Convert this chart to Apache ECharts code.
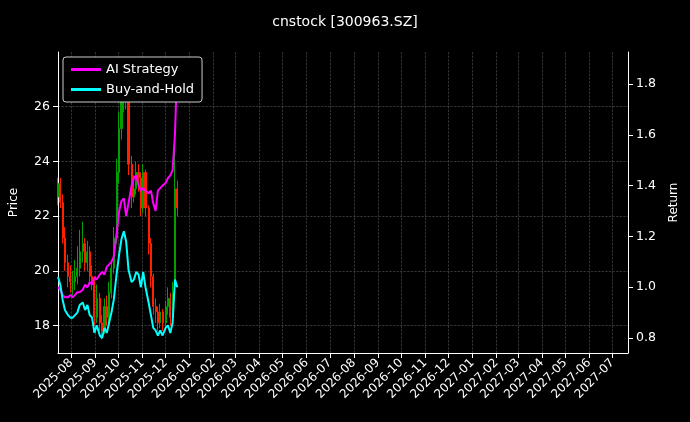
<!DOCTYPE html>
<html>
<head>
<meta charset="utf-8">
<script src="https://cdn.jsdelivr.net/npm/echarts@6/dist/echarts.min.js"></script>
<style>html,body{margin:0;padding:0;background:#000}#main{width:690px;height:422px}</style>
</head>
<body>
<div id="main"></div>
<script>
// dates: one sample every ~3 days from 2025-07-15
var startDay = Date.UTC(2025, 6, 15);
var opens  = [22.7,23.2,22.5,21.2,20.3,19.8,19.6,19.6,19.8,20.1,20.7,21.0,20.3,20.7,19.8,19.6,18.3,19.0,18.1,17.8,18.7,18.3,19.2,20.1,21.2,23.6,25.2,26.5,27.2,26.3,23.9,22.7,23.0,23.6,23.4,22.3,23.6,22.3,21.0,19.8,18.7,18.5,18.1,18.5,18.1,18.7,19.0,18.3,19.5,23.0];
var closes = [23.2,22.5,21.2,20.3,19.8,19.6,19.6,19.8,20.1,20.7,21.0,20.3,20.7,19.8,19.6,18.3,19.0,18.1,17.8,18.7,18.3,19.2,20.1,21.2,23.6,25.2,26.5,27.2,26.3,23.9,22.7,23.0,23.6,23.4,22.3,23.6,22.3,21.0,19.8,18.7,18.5,18.1,18.5,18.1,18.7,19.0,18.3,19.2,23.0,22.3];
var lows   = [22.4,22.3,21.0,20.0,19.4,19.2,19.1,19.3,19.5,19.8,20.3,20.0,20.0,19.5,19.3,18.0,18.1,17.8,17.5,17.7,18.0,18.1,19.0,19.9,21.0,23.2,24.8,25.8,25.9,23.5,22.3,22.5,22.8,22.9,22.0,22.1,22.0,20.6,19.4,18.4,18.1,17.8,17.9,17.8,17.9,18.4,18.0,18.1,19.2,22.0];
var highs  = [23.4,23.4,22.8,21.6,20.6,20.2,20.0,20.4,20.9,21.5,21.8,21.2,21.1,20.9,20.2,19.8,19.5,19.2,18.4,19.0,19.1,19.6,20.4,21.6,24.1,25.8,27.0,27.6,27.4,26.5,24.2,23.5,24.0,23.9,23.6,23.9,23.7,22.4,21.2,19.9,19.0,18.7,18.8,18.6,18.9,19.4,19.2,19.6,24.4,23.3];
var aiStrategy  = [1.00,0.99,0.97,0.96,0.96,0.97,0.96,0.97,0.98,0.98,0.99,1.01,1.00,1.02,1.01,1.04,1.03,1.05,1.06,1.05,1.08,1.09,1.10,1.12,1.22,1.30,1.34,1.35,1.28,1.33,1.40,1.43,1.44,1.40,1.38,1.39,1.38,1.37,1.38,1.33,1.30,1.38,1.39,1.40,1.41,1.43,1.44,1.46,1.60,1.88];
var buyAndHold  = [1.04,1.01,0.95,0.91,0.89,0.88,0.88,0.89,0.90,0.93,0.94,0.91,0.93,0.89,0.88,0.82,0.85,0.81,0.80,0.84,0.82,0.86,0.90,0.95,1.06,1.13,1.19,1.22,1.18,1.07,1.02,1.03,1.06,1.05,1.00,1.06,1.00,0.94,0.89,0.84,0.83,0.81,0.83,0.81,0.84,0.85,0.82,0.86,1.03,1.00];
var priceTicks  = [18, 20, 22, 24, 26];
var returnTicks = [0.8, 1.0, 1.2, 1.4, 1.6, 1.8];

var dates = closes.map(function (c, i) { return startDay + Math.round(i * 3.15) * 86400000; });
var candles = closes.map(function (c, i) { return [dates[i], opens[i], closes[i], lows[i], highs[i]]; });
var aiLine = aiStrategy.map(function (v, i) { return [dates[i], v]; });
var bhLine = buyAndHold.map(function (v, i) { return [dates[i], v]; });

var grid = { lineStyle: { color: '#555', type: 'dashed', width: 0.6 } };
var chart = echarts.init(document.getElementById('main'));
chart.setOption({
  backgroundColor: '#000',
  animation: false,
  textStyle: { fontFamily: 'DejaVu Sans' },
  title: { text: 'cnstock [300963.SZ]', left: 'center', top: 10, textStyle: { color: '#fff', fontSize: 14, fontWeight: 'normal' } },
  legend: {
    left: 63, top: 57, orient: 'vertical', itemGap: 7,
    backgroundColor: '#000', borderColor: '#ccc', borderWidth: 1, borderRadius: 3, padding: [6, 8],
    textStyle: { color: '#fff', fontSize: 13 }, itemWidth: 30, itemHeight: 3,
    data: [{ name: 'AI Strategy', icon: 'rect' }, { name: 'Buy-and-Hold', icon: 'rect' }]
  },
  grid: { left: 57, right: 62, top: 52, bottom: 69 },
  xAxis: {
    type: 'time',
    min: Date.UTC(2025, 6, 15), max: Date.UTC(2027, 6, 21),
    splitNumber: 24,
    axisLine: { lineStyle: { color: '#fff' } },
    axisTick: { lineStyle: { color: '#fff' } },
    axisLabel: { color: '#fff', rotate: 45, fontSize: 12, formatter: '{yyyy}-{MM}', hideOverlap: false },
    splitLine: Object.assign({ show: true }, grid)
  },
  yAxis: [{
    type: 'value', min: 17, max: 28, interval: 1,
    name: 'Price', nameLocation: 'middle', nameGap: 38, nameTextStyle: { color: '#fff', fontSize: 12 },
    axisLine: { show: true, lineStyle: { color: '#fff' } },
    axisTick: { show: true, lineStyle: { color: '#fff' }, customValues: priceTicks },
    axisLabel: { color: '#fff', fontSize: 12.5, customValues: priceTicks },
    splitLine: Object.assign({ show: true }, grid)
  }, {
    type: 'value', min: 0.741, max: 1.926,
    name: 'Return', nameLocation: 'middle', nameGap: 40, nameTextStyle: { color: '#fff', fontSize: 12 },
    axisLine: { show: true, lineStyle: { color: '#fff' } },
    axisTick: { show: true, lineStyle: { color: '#fff' }, customValues: returnTicks },
    axisLabel: { color: '#fff', fontSize: 12.5, customValues: returnTicks, formatter: function (v) { return v.toFixed(1); } },
    splitLine: { show: false }
  }],
  series: [{
    type: 'candlestick', data: candles, barMaxWidth: 1.6,
    itemStyle: { color: '#00a000', color0: '#ff2000', borderColor: '#00a000', borderColor0: '#ff2000', borderWidth: 1 }
  }, {
    name: 'AI Strategy', type: 'line', yAxisIndex: 1, data: aiLine, showSymbol: false,
    lineStyle: { color: '#ff00ff', width: 2 }, itemStyle: { color: '#ff00ff' }
  }, {
    name: 'Buy-and-Hold', type: 'line', yAxisIndex: 1, data: bhLine, showSymbol: false,
    lineStyle: { color: '#00ffff', width: 2 }, itemStyle: { color: '#00ffff' }
  }]
});
</script>
</body>
</html>
